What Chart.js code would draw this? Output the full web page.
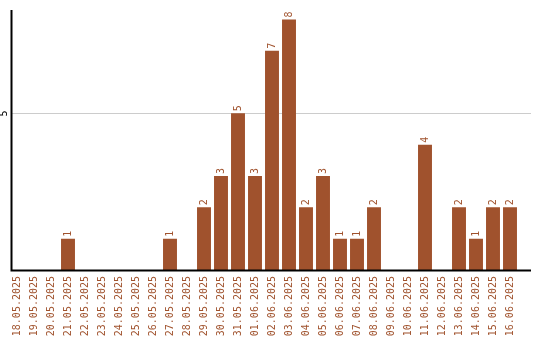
<!DOCTYPE html>
<html>
<head>
<meta charset="utf-8">
<script src="https://cdn.jsdelivr.net/npm/chart.js@4"></script>
<style>
  html, body { margin: 0; padding: 0; background: #fff; }
  #wrap { width: 540px; height: 340px; }
</style>
</head>
<body>
<div id="wrap"><canvas id="chart"></canvas></div>
<script>
const days = ['18.05.2025', '19.05.2025', '20.05.2025', '21.05.2025', '22.05.2025', '23.05.2025',
    '24.05.2025', '25.05.2025', '26.05.2025', '27.05.2025', '28.05.2025', '29.05.2025',
    '30.05.2025', '31.05.2025', '01.06.2025', '02.06.2025', '03.06.2025', '04.06.2025',
    '05.06.2025', '06.06.2025', '07.06.2025', '08.06.2025', '09.06.2025', '10.06.2025',
    '11.06.2025', '12.06.2025', '13.06.2025', '14.06.2025', '15.06.2025', '16.06.2025'];
const counts = [0, 0, 0, 1, 0, 0, 0, 0, 0, 1, 0, 2, 3, 5, 3, 7, 8, 2, 3, 1, 1, 2, 0, 0, 4, 0, 2, 1, 2, 2];
const yTicks = [0, 5];

const brown = '#a0522d';
const monoFont = '10px "DejaVu Sans Mono", monospace';

// axis lines, grid line, y tick labels and bar values (all rotated text)
const decor = {
    id: 'decor',
    beforeDatasetsDraw(chart) {
        const { ctx, chartArea, scales } = chart;
        const x0 = chartArea.left + 2.5;
        const x1 = chartArea.right + 12.5;
        ctx.save();
        ctx.strokeStyle = '#cccccc';
        ctx.lineWidth = 1;
        scales.y.ticks.forEach(t => {
            if (t.value === 0) return;
            const y = Math.round(scales.y.getPixelForValue(t.value)) + 0.5;
            ctx.beginPath();
            ctx.moveTo(x0, y);
            ctx.lineTo(x1, y);
            ctx.stroke();
        });
        ctx.restore();
    },
    afterDatasetsDraw(chart) {
        const { ctx, chartArea, scales } = chart;
        const x0 = Math.round(chartArea.left + 2.5) + 0.5;
        const x1 = chartArea.right + 12.5;
        const yb = Math.round(chartArea.bottom) + 0.5;
        ctx.save();
        ctx.strokeStyle = '#000';
        ctx.lineWidth = 2;
        ctx.beginPath();
        ctx.moveTo(x0, chartArea.top);
        ctx.lineTo(x0, yb);
        ctx.lineTo(x1, yb);
        ctx.stroke();

        ctx.font = monoFont;
        ctx.fillStyle = '#000';
        ctx.textAlign = 'center';
        ctx.textBaseline = 'middle';
        scales.y.ticks.forEach(t => {
            if (t.value === 0) return;
            const y = scales.y.getPixelForValue(t.value);
            ctx.save();
            ctx.translate(4, y);
            ctx.rotate(-Math.PI / 2);
            ctx.fillText(String(t.value), 0, 0);
            ctx.restore();
        });

        ctx.fillStyle = brown;
        ctx.textAlign = 'left';
        chart.getDatasetMeta(0).data.forEach((bar, i) => {
            if (!counts[i]) return;
            ctx.save();
            ctx.translate(bar.x, bar.y - 2);
            ctx.rotate(-Math.PI / 2);
            ctx.fillText(String(counts[i]), 0, 0);
            ctx.restore();
        });
        ctx.restore();
    }
};

new Chart(document.getElementById('chart'), {
    type: 'bar',
    data: {
        labels: days,
        datasets: [{
            data: counts,
            backgroundColor: brown,
            borderWidth: 0,
            categoryPercentage: 1,
            barPercentage: 0.82
        }]
    },
    options: {
        responsive: true,
        maintainAspectRatio: false,
        animation: false,
        layout: { padding: { top: 10, right: 21.5, left: 0, bottom: 0 } },
        plugins: { legend: { display: false }, tooltip: { enabled: false } },
        scales: {
            x: {
                grid: { display: false, drawTicks: false },
                border: { display: false },
                ticks: {
                    color: brown,
                    font: { family: '"DejaVu Sans Mono", monospace', size: 10 },
                    minRotation: 90,
                    maxRotation: 90,
                    autoSkip: false,
                    padding: 6
                },
                afterFit(scale) { scale.height = 70; }
            },
            y: {
                min: 0,
                max: 8.3,
                grid: { display: false },
                border: { display: false },
                ticks: { display: false, stepSize: 5 },
                afterBuildTicks(scale) {
                    scale.ticks = yTicks.map(v => ({ value: v }));
                },
                afterFit(scale) { scale.width = 8.5; }
            }
        }
    },
    plugins: [decor]
});
</script>
</body>
</html>
